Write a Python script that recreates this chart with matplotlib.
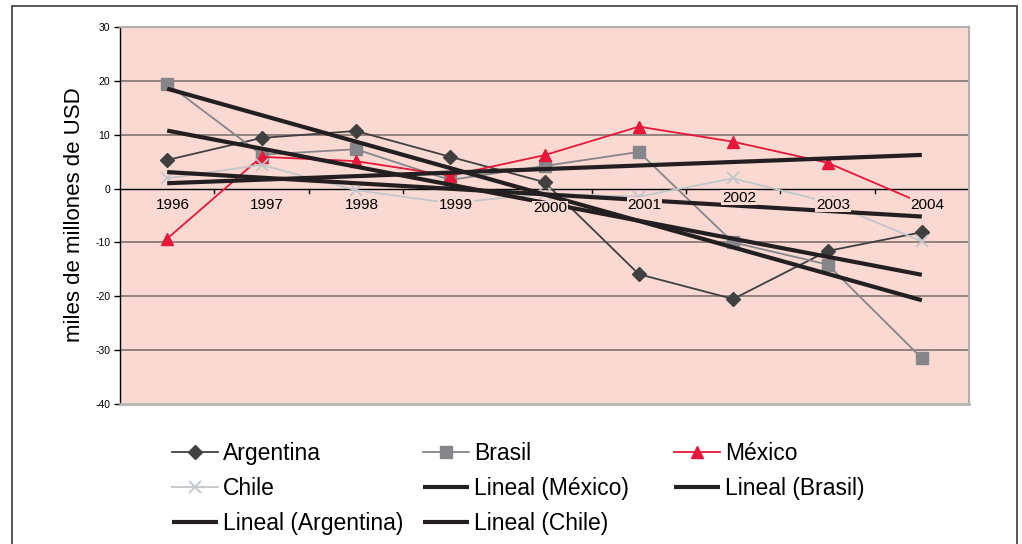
import numpy as np
import matplotlib
matplotlib.use("Agg")
import matplotlib.pyplot as plt
from matplotlib.patches import Rectangle

plt.rcParams['font.family'] = ['Liberation Sans', 'DejaVu Sans']
plt.rcParams['axes.unicode_minus'] = False

# Data (miles de millones de USD)
years = ['1996', '1997', '1998', '1999', '2000', '2001', '2002', '2003', '2004']
argentina = [5.3, 9.4, 10.7, 5.9, 1.2, -15.9, -20.5, -11.6, -8.1]
brasil = [19.5, 6.3, 7.3, 1.6, 4.2, 6.8, -10.0, -14.1, -31.5]
mexico = [-9.3, 5.9, 5.1, 2.4, 6.2, 11.5, 8.7, 4.8, -2.7]
chile = [1.9, 4.4, -0.3, -2.7, -1.0, -1.5, 1.9, -2.5, -9.8]

BG = '#f9d9d1'
TREND = '#231f20'

fig = plt.figure(figsize=(10.22, 5.44), dpi=100)
fig.patches.append(Rectangle((12 / 1022, -0.01), 1005 / 1022, 1 - 6 / 544 + 0.01,
                             transform=fig.transFigure, fill=False,
                             edgecolor='#4a4a4a', linewidth=1.3))

ax = fig.add_axes([120 / 1022, 1 - 404 / 544, 849 / 1022, 377 / 544])
ax.set_facecolor(BG)
x = np.arange(len(years))

# grid
for v in [30, 20, 10, -10, -20, -30]:
    ax.axhline(v, color='#8a7a77', linewidth=1.3, zorder=1)
ax.axhline(0, color='black', linewidth=1.0, zorder=1)

l_arg, = ax.plot(x, argentina, color='#404040', marker='D', markersize=7,
                 linewidth=1.3, zorder=3, label='Argentina')
l_bra, = ax.plot(x, brasil, color='#86868a', marker='s', markersize=8,
                 linewidth=1.3, zorder=3, label='Brasil')
l_mex, = ax.plot(x, mexico, color='#e8173a', marker='^', markersize=9,
                 linewidth=1.3, zorder=3, label='México')
l_chi, = ax.plot(x, chile, color='#c2c6ca', marker='x', markersize=9,
                 markeredgewidth=1.3, linewidth=1.3, zorder=3, label='Chile')

# linear trend lines (least squares, as in the spreadsheet)
trends = {}
for name, vals in [('México', mexico), ('Brasil', brasil),
                   ('Argentina', argentina), ('Chile', chile)]:
    k, b = np.polyfit(x, vals, 1)
    trends[name], = ax.plot(x, k * x + b, color=TREND, linewidth=3.0, zorder=4,
                            solid_capstyle='butt', label='Lineal (%s)' % name)

ax.set_xlim(-0.5, len(years) - 0.5)
ax.set_ylim(-40, 30)
ax.set_yticks(range(-40, 31, 10))
ax.tick_params(axis='y', labelsize=7.5, length=4, width=1, direction='out', pad=3)

# category axis crossing at zero
ax.set_xticks([])
ax.spines['bottom'].set_visible(False)
for s in ['top', 'right']:
    ax.spines[s].set_color('#b0b0b0')
    ax.spines[s].set_linewidth(1.5)
ax.spines['left'].set_color('black')
ax.spines['left'].set_linewidth(1.0)
ax.plot([-0.5, len(years) - 0.5], [-40, -40], color='#b4b4b4', linewidth=2.0,
        clip_on=False, zorder=5)
for t in np.arange(0.5, len(years) - 0.5, 1.0):
    ax.plot([t, t], [0, -0.8], color='black', linewidth=1.0, zorder=2)
label_dy = [0, 0, 0, 0, -0.7, 0, 1.3, 0, 0]
for i, yr in enumerate(years):
    ax.text(i + 0.06, -3.0 + label_dy[i], yr, ha='center', va='center', fontsize=11,
            zorder=6, bbox=dict(boxstyle='square,pad=0.05', facecolor=BG, edgecolor='none'))

fig.text(75 / 1022, 1 - 215 / 544, 'miles de millones de USD', rotation=90,
         ha='center', va='center', fontsize=16)

# legend in three fixed columns
cols = [([l_arg, l_chi, trends['Argentina']], 172),
        ([l_bra, trends['México'], trends['Chile']], 423),
        ([l_mex, trends['Brasil']], 674)]
for handles, xpos in cols:
    leg = fig.legend(handles=handles, loc='upper left',
                     bbox_to_anchor=(xpos / 1022, 1 - 442 / 544),
                     frameon=False, fontsize=16.5, handlelength=2.0,
                     handletextpad=0.22, borderpad=0, borderaxespad=0,
                     labelspacing=0.53)

fig.savefig('out.png', dpi=100)
